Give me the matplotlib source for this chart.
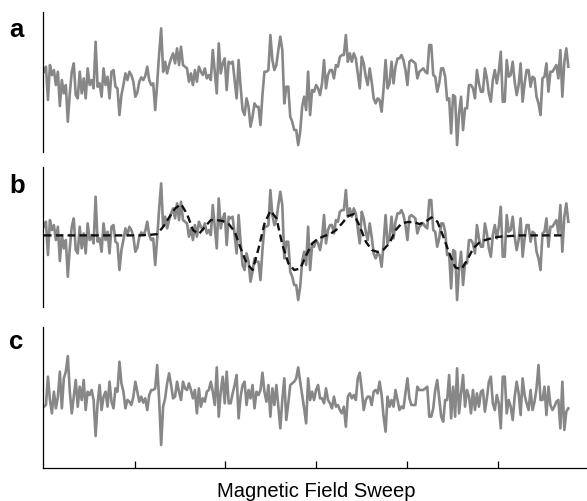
import matplotlib
matplotlib.use("Agg")
import matplotlib.pyplot as plt
import numpy as np

plt.rcParams['font.family'] = ['Liberation Sans', 'DejaVu Sans']

signal = [
    26, 41, -59, 46, 16, 31, -14, 26, -77, 1,
    -39, -14, -124, -39, 26, 51, -44, -54, 26, -39,
    6, -54, 36, -14, 1, -24, 116, -19, -9, -49,
    36, -14, 11, -54, 26, 31, -19, -24, -104, -44,
    -14, 21, 1, 26, 16, -4, -49, -37, -4, 9,
    1, 13, 41, 1, -14, -9, -89, -9, 81, 156,
    26, 56, 21, 46, 66, 81, 51, 96, 46, 101,
    46, 41, 36, -4, 21, -14, 31, -4, 41,
    26, 16, 36, 6, 16, 1, 91, 26, -39, 111,
    21, 51, 66, -29, 56, 51, 56, 1, -54, 61,
    -19, -89, -104, -54, -79, -139, -109, -69, -79, -79,
    -134, -44, 26, 26, 31, 136, 61, 31, 46, 91,
    131, 91, -69, -19, -19, -109, -124, -149, -149, -194,
    -154, -79, -49, -89, 26, -104, -29, -34, -14, -24,
    -44, -9, 61, -24, 16, 31, 31, 6, 46, 41,
    71, 76, 76, 136, 56, 81, 56, 81, 66, 21,
    -24, 71, 51, 11, -14, 36, -4, -54, -69, -54,
    -59, -94, -24, 61, -24, -9, 56, -9,
    41, 66, 66, 76, 61, 31, -14, 56, 61, 56,
    51, 6, 26, 31, 36, 26, 21, 106, 106, 16,
    11, -34, -9, 36, 36, 11, -59, -54, -159, -44,
    -49, -194, -99, -49, -149, -84, -84, -14, -14, -24,
    -54, 31, -9, -34, -34, 36, 6, -39, -64, 1,
    31, -9, 26, 86, -64, -64, 61, 11, 16, 56,
    -4, -44, -14, 51, -64, -9, 31, 31, -19, 11,
    6, -49, -69, -104, 6, 11, 51, -34, 26, 26,
    36, 46, 6, 91, -49, 56, 96, 41,
]

# fitted spectrum (dashed line in b)
fit = [
    0, 0, 0, 0, 0, 0, 0, 0, 0, 0,
    0, 0, 0, 0, 0, 0, 0, 1, 2, 4,
    26, 54, 81, 94, 64, 16, 4, 26, 46, 46,
    43, 34, 11, -39, -84, -104, -39, 36, 74, 51,
    -29, -84, -104, -99, -59, -24, -10, -2, 4, 16,
    36, 58, 64, 26, -19, -44, -50, -42, -22, 16,
    36, 40, 40, 34, 41, 54, 41, -4, -54, -96,
    -102, -74, -39, -22, -14, -9, -5, -3, -2, -1,
    0, 0, 0, 0, 0, 0, 0, 0,
]

# residual after subtracting the fit
residual = [
    -29, -24, 61, -9, -49, 16, -34, 1, 76, -34,
    56, 76, 123, 16, -49, 1, 51, -29, 31, -9,
    51, -39, 16, 6, 21, -9, -117, -19, 36, -39,
    1, 16, -29, 46, -14, -34, 26, 16, 106, 41,
    16, -34, -9, -14, -24, 1, 46, 16, -14, 1,
    -17, -4, -39, 6, 21, 21, 26, 96, -9, -144,
    -29, -4, 41, 71, 36, -4, 1, 46, 16, -9,
    46, 26, 21, 41, 21, -4, 21, -49, 26,
    -29, -4, -14, 16, 21, 46, 16, -24, 89, -59,
    16, 61, -19, 76, -19, -19, 11, 36, 66, -64,
    1, 36, 46, -24, 21, -4, 36, -34, 16, 6,
    21, 73, 16, -14, 36, -59, 26, -24, 36, -29,
    -94, -9, 56, -69, -19, 36, 41, 46, 56, 89,
    46, 6, -34, -79, 56, -9, 16, -9, 21, 36,
    -4, -4, -19, 26, -9, -19, -34, 1, -29, -24,
    -39, -49, -29, -89, 1, 11, -4, 6, -9, 56,
    73, 21, -39, -9, 1, 1, -24, 16, 21, 11,
    46, 6, -59, -104, 1, -29, -9, -29,
    21, -9, -39, -29, -34, 11, 56, -4, -24, -24,
    -24, 31, 21, 21, 21, 26, 31, -59, -59, -34,
    21, 51, -4, -59, -74, -9, -9, 66, -64, 31,
    -59, 86, -49, 11, 66, -29, 21, 1, -49, 21,
    -39, 11, -29, 16, 21, -44, -4, 46, 61, -19,
    -39, 6, -19, -94, 61, 61, -49, -9, -29, -69,
    1, 46, 11, -54, 56, 6, -19, -39, 21, -39,
    -14, 26, 96, -9, -9, 31, -54, 31, -24, -39,
    -29, -14, -9, -94, 46, -99, -44, -34,
]

panel_labels = ['a', 'b', 'c']
xlabel = 'Magnetic Field Sweep'
sweep_ticks = [1, 2, 3, 4, 5]

sweep = np.linspace(0, 5.777, len(signal))
sweep_fit = np.linspace(0, 5.714, len(fit))
sweep_res = np.linspace(0, 5.777, len(residual))

gray = '#878787'
lw = 1.9

fig = plt.figure(figsize=(5.87, 5.01), dpi=100)
ax_a = fig.add_axes([0.0727, 0.6972, 0.9273, 0.2794])
ax_b = fig.add_axes([0.0727, 0.3878, 0.9273, 0.2794])
ax_c = fig.add_axes([0.0727, 0.0659, 0.9273, 0.2820])

ax_a.plot(sweep, signal, color=gray, lw=lw)
ax_b.plot(sweep, signal, color=gray, lw=lw)
ax_b.plot(sweep_fit, fit, color='#111111', lw=1.7, ls=(0, (3.2, 1.8)))
ax_c.plot(sweep_res, residual, color=gray, lw=lw)

for ax in (ax_a, ax_b, ax_c):
    ax.set_xlim(-0.0143, 5.983)
    for s in ('top', 'right'):
        ax.spines[s].set_visible(False)
    ax.spines['left'].set_linewidth(0.9)
    ax.set_yticks([])
ax_a.set_ylim(-214, 206)
ax_b.set_ylim(-214, 206)
ax_c.set_ylim(-213, 211)

for ax in (ax_a, ax_b):
    ax.spines['bottom'].set_visible(False)
    ax.set_xticks([])

ax_c.spines['bottom'].set_linewidth(0.9)
ax_c.set_xticks(sweep_ticks)
ax_c.set_xticklabels([])
ax_c.tick_params(axis='x', direction='in', length=5, width=0.9)

for lab, yy in zip(panel_labels, [0.926, 0.615, 0.3034]):
    fig.text(0.0153, yy, lab, fontsize=18.5, fontweight='bold', va='baseline', ha='left')

fig.text(316 / 587, 1 - 496.7 / 501, xlabel, fontsize=14.5, ha='center', va='baseline')

plt.savefig('out.png', dpi=100)
